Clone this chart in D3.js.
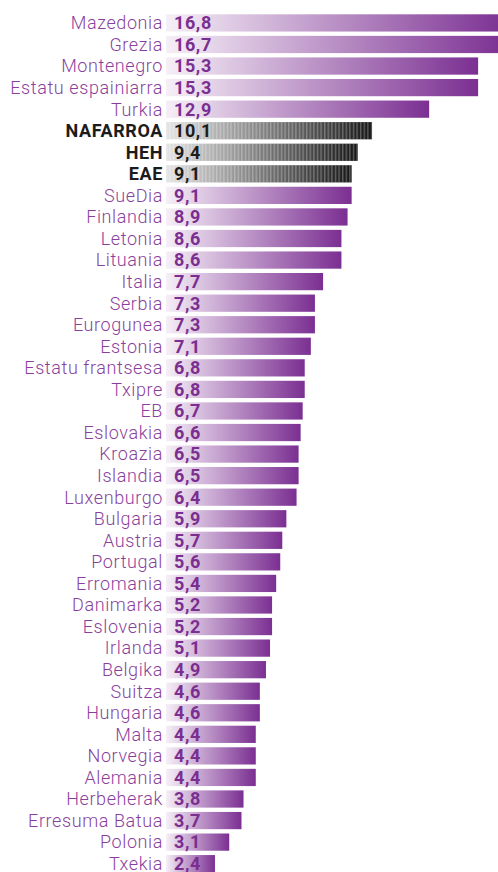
<!DOCTYPE html>
<html>
<head>
<meta charset="utf-8">
<style>
	body { margin: 0; background: #fff; }
	svg { position: absolute; top: 0; left: 0; }
	.name { font-family: Roboto, sans-serif; font-weight: 300; font-size: 18px; letter-spacing: 0.6px; fill: #8a3f9e; }
	.val { font-family: Roboto, sans-serif; font-weight: 700; font-size: 18px; letter-spacing: 0.6px; fill: #7a2e90; }
	.hl .name, .hl .val { fill: #1c1c1c; font-weight: 700; }
</style>
<script src="https://cdnjs.cloudflare.com/ajax/libs/d3/7.8.5/d3.min.js"></script>
</head>
<body>
<svg width="498" height="872"></svg>
<script>
var names = ["Mazedonia","Grezia","Montenegro","Estatu espainiarra","Turkia","NAFARROA","HEH","EAE","SueDia","Finlandia","Letonia","Lituania","Italia","Serbia","Eurogunea","Estonia","Estatu frantsesa","Txipre","EB","Eslovakia","Kroazia","Islandia","Luxenburgo","Bulgaria","Austria","Portugal","Erromania","Danimarka","Eslovenia","Irlanda","Belgika","Suitza","Hungaria","Malta","Norvegia","Alemania","Herbeherak","Erresuma Batua","Polonia","Txekia"];
var values = [16.8,16.7,15.3,15.3,12.9,10.1,9.4,9.1,9.1,8.9,8.6,8.6,7.7,7.3,7.3,7.1,6.8,6.8,6.7,6.6,6.5,6.5,6.4,5.9,5.7,5.6,5.4,5.2,5.2,5.1,4.9,4.6,4.6,4.4,4.4,4.4,3.8,3.7,3.1,2.4];
var highlight = ["NAFARROA","HEH","EAE"];

var svg = d3.select("svg"),
	width = +svg.attr("width"),
	height = +svg.attr("height");

var data = names.map(function(n, i) { return {name: n, value: values[i], hl: highlight.indexOf(n) >= 0}; });

var x = d3.scaleLinear().domain([0, 10]).range([166, 370]);
var y = d3.scaleBand().domain(names).range([14.3, 872.3]).paddingInner(0.2).paddingOuter(0);

var defs = svg.append("defs");
var gp = defs.append("linearGradient").attr("id", "gPurple");
gp.append("stop").attr("offset", 0).attr("stop-color", "#f6eff7");
gp.append("stop").attr("offset", 1).attr("stop-color", "#7b2f92");
var gb = defs.append("linearGradient").attr("id", "gBlack");
gb.append("stop").attr("offset", 0).attr("stop-color", "#e4e4e4");
gb.append("stop").attr("offset", 1).attr("stop-color", "#161616");
var pat = defs.append("pattern").attr("id", "stripes").attr("patternUnits", "userSpaceOnUse")
	.attr("width", 3.6).attr("height", 10);
pat.append("rect").attr("x", 0).attr("y", 0).attr("width", 1.4).attr("height", 10)
	.attr("fill", "#fff").attr("opacity", 0.28);

var rows = svg.append("g").selectAll("g").data(data).join("g")
	.attr("class", function(d) { return d.hl ? "hl" : null; })
	.attr("transform", function(d) { return "translate(0," + y(d.name) + ")"; });

rows.append("rect")
	.attr("x", x(0))
	.attr("width", function(d) { return x(d.value) - x(0); })
	.attr("height", y.bandwidth())
	.attr("fill", function(d) { return d.hl ? "url(#gBlack)" : "url(#gPurple)"; });

rows.filter(function(d) { return d.hl; }).append("rect")
	.attr("x", x(0))
	.attr("width", function(d) { return x(d.value) - x(0); })
	.attr("height", y.bandwidth())
	.attr("fill", "url(#stripes)");

rows.append("text").attr("class", "name")
	.attr("x", 163)
	.attr("y", 15)
	.attr("text-anchor", "end")
	.text(function(d) { return d.name; });

rows.append("text").attr("class", "val")
	.attr("x", 174)
	.attr("y", 15)
	.text(function(d) { return String(d.value.toFixed(1)).replace(".", ","); });
</script>
</body>
</html>
